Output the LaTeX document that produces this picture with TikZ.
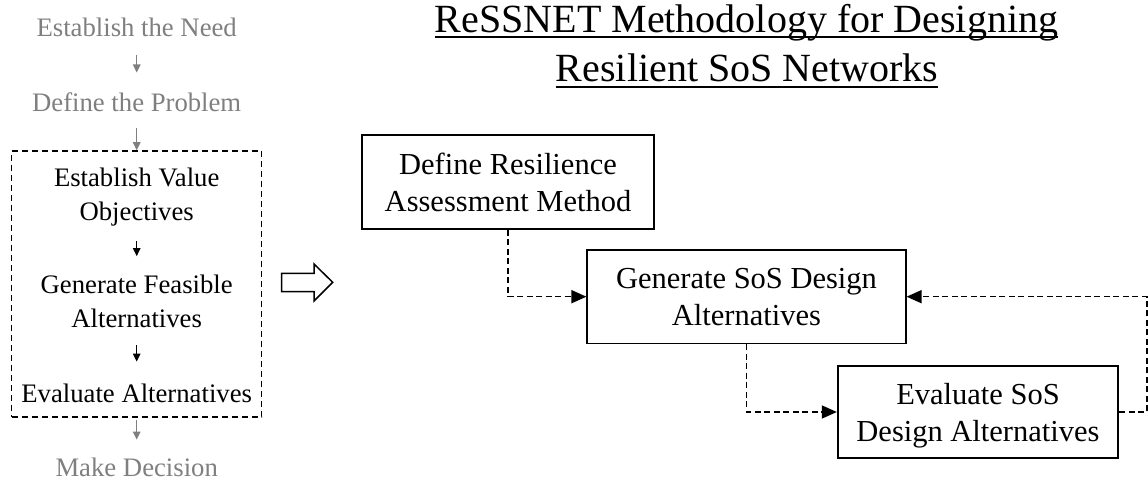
\documentclass[tikz,border=0pt]{standalone}
\usepackage{fontspec}
\setmainfont{Liberation Serif}
\usetikzlibrary{arrows.meta}
\definecolor{stepgray}{RGB}{127,127,127}

\begin{document}
\begin{tikzpicture}[x=1pt,y=-1pt,
  steptext/.style={inner sep=0pt, text depth=0pt, align=center,
    font=\fontsize{26.7}{33.5}\selectfont},
  faded/.style={text=stepgray},
  flow/.style={-{Triangle[length=8pt,width=7.5pt]}, line width=1.3pt},
  fadedflow/.style={flow, draw=stepgray},
  frame/.style={draw, line width=1.5pt, dash pattern=on 6pt off 4pt,
    inner sep=0pt},
  stage/.style={draw, line width=1.7pt, inner sep=0pt, text depth=0pt,
    align=center, font=\fontsize{30.5}{37}\selectfont},
  link/.style={line width=1.5pt, dash pattern=on 6pt off 3.5pt,
    -{Triangle[length=15pt,width=13pt]}},
  titletext/.style={inner sep=0pt, anchor=base,
    font=\fontsize{40}{48}\selectfont},
  titlerule/.style={line width=1.8pt}
]
\useasboundingbox (0,0) rectangle (1148,481);

% ---- title ----
\node[titletext] (t1) at (746.5,32.3) {ReSSNET Methodology for Designing};
\node[titletext] (t2) at (747,81.7) {Resilient SoS Networks};
\draw[titlerule] ([yshift=-5pt]t1.base west) -- ([yshift=-5pt]t1.base east);
\draw[titlerule] ([yshift=-5pt]t2.base west) -- ([yshift=-5pt]t2.base east);

% ---- general decision process (left column) ----
\node[steptext, faded] (need) at (136.7,27.4) {Establish the Need};
\node[steptext, faded] (prob) at (136.7,102.4) {Define the Problem};
\node[frame, minimum width=250pt, minimum height=266pt] (box) at (136.7,284) {};
\node[steptext] (val) at (136.7,194.1) {Establish Value\\Objectives};
\node[steptext] (feas) at (136.7,301.2) {Generate Feasible\\Alternatives};
\node[steptext] (evalt) at (136.7,392.9) {Evaluate Alternatives};
\node[steptext, faded] (dec) at (136.7,467.5) {Make Decision};

\draw[fadedflow, shorten <=18.5pt, shorten >=20.3pt] (need.south) -- (prob.north);
\draw[fadedflow, shorten <=16.5pt] (prob.south) -- (box.north);
\draw[flow, shorten <=21pt, shorten >=18.8pt] (val.south) -- (feas.north);
\draw[flow, shorten <=18pt, shorten >=21.8pt] (feas.south) -- (evalt.north);
\draw[fadedflow, shorten <=2pt, shorten >=18.4pt] (box.south) -- (dec.north);

% ---- hollow block arrow ----
\draw[line width=1.5pt, line join=miter]
  (281.7,273.3) -- (314,273.3) -- (314,264) -- (332.7,282.3)
  -- (314,301) -- (314,291.7) -- (281.7,291.7) -- cycle;

% ---- ReSSNET steps ----
\node[stage, minimum width=292.6pt, minimum height=94pt] (def) at (508,182)
  {Define Resilience\\Assessment Method};
\node[stage, minimum width=318.4pt, minimum height=93.3pt] (gen) at (746.5,296.7)
  {Generate SoS Design\\Alternatives};
\node[stage, minimum width=280.6pt, minimum height=92.6pt] (eval) at (978,412)
  {Evaluate SoS\\Design Alternatives};

\coordinate (loop) at (1147,0);
\draw[link] (def.south) |- (gen.west);
\draw[link] (gen.south) |- (eval.west);
\draw[link] (eval.east) -- (eval.east -| loop) |- (gen.east);
\end{tikzpicture}
\end{document}
